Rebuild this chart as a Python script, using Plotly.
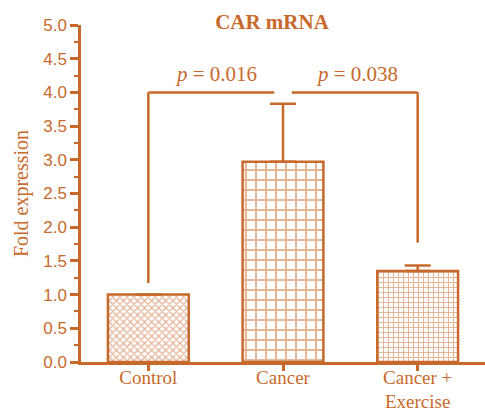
import plotly.graph_objects as go

categories = ["Control", "Cancer", "Cancer +<br>Exercise"]
fold_values = [1.0, 2.97, 1.35]
error_up = [0.0, 0.86, 0.08]
patterns = ["x", "+", "+"]
pattern_sizes = [5, 10, 5]

# significance brackets: (left index, right index, label, label x, left foot y, right foot y)
bracket_top = 4.0
brackets = [(0, 1, "0.016", 0.5, 1.17, None), (1, 2, "0.038", 1.55, None, 1.77)]

C = "#C8692C"

fig = go.Figure()
fig.add_trace(go.Bar(
    x=[0, 1, 2], y=fold_values, width=0.6,
    marker=dict(color="white", line=dict(color=C, width=2.5),
                pattern=dict(shape=patterns, size=pattern_sizes, fgcolor=C,
                             bgcolor="white", solidity=[0.45, 0.35, 0.35], fillmode="overlay")),
    error_y=dict(type="data", symmetric=False, array=error_up,
                 arrayminus=[0, 0, 0], color=C, thickness=2.5, width=13),
    showlegend=False, hoverinfo="skip",
))

gap = 0.065
fig.add_shape(type="line", x0=0, x1=0, y0=brackets[0][4], y1=bracket_top,
              line=dict(color=C, width=2.5), xref="x", yref="y")
fig.add_shape(type="line", x0=0, x1=1 - gap, y0=bracket_top, y1=bracket_top,
              line=dict(color=C, width=2.5), xref="x", yref="y")
fig.add_shape(type="line", x0=1 + gap, x1=2, y0=bracket_top, y1=bracket_top,
              line=dict(color=C, width=2.5), xref="x", yref="y")
fig.add_shape(type="line", x0=2, x1=2, y0=brackets[1][5], y1=bracket_top,
              line=dict(color=C, width=2.5), xref="x", yref="y")

for (a, b, lab, lx, _, _) in brackets:
    fig.add_annotation(x=lx, y=bracket_top,
                       text="<i>p</i> = " + lab, showarrow=False, yanchor="bottom", yshift=4,
                       font=dict(family="Liberation Serif", size=21, color=C), xref="x", yref="y")

fig.update_layout(
    width=485, height=410,
    margin=dict(l=81, r=0, t=25, b=48, autoexpand=False),
    paper_bgcolor="white", plot_bgcolor="white",
    title=dict(text="<b>CAR mRNA</b>", x=272 / 485, xanchor="center", y=1 - 22 / 410, yanchor="middle",
               font=dict(family="Liberation Serif", size=21, color=C)),
    xaxis=dict(range=[-0.5, 2.5], tickmode="array", tickvals=[0, 1, 2], ticktext=categories,
               showline=True, linecolor=C, linewidth=2.5, ticks="outside", tickcolor=C,
               tickwidth=2.5, ticklen=6, showgrid=False, zeroline=False, automargin=False,
               ticklabelstandoff=-10,
               tickfont=dict(family="Liberation Serif", size=19, color=C)),
    yaxis=dict(range=[0, 5], tickmode="linear", tick0=0, dtick=0.5, tickformat=".1f",
               showline=True, linecolor=C, linewidth=2.5, ticks="outside", tickcolor=C,
               tickwidth=2.5, ticklen=8, showgrid=False, zeroline=False, automargin=False,
               minor=dict(dtick=0.25, ticks="outside", ticklen=4, tickcolor=C, tickwidth=2),
               tickfont=dict(family="Liberation Sans", size=17, color=C),
               title=dict(text="Fold expression", standoff=10,
                          font=dict(family="Liberation Serif", size=20, color=C))),
)

fig.write_html("out.html", post_script="document.body.style.margin='0';",
               config={"displayModeBar": False})
